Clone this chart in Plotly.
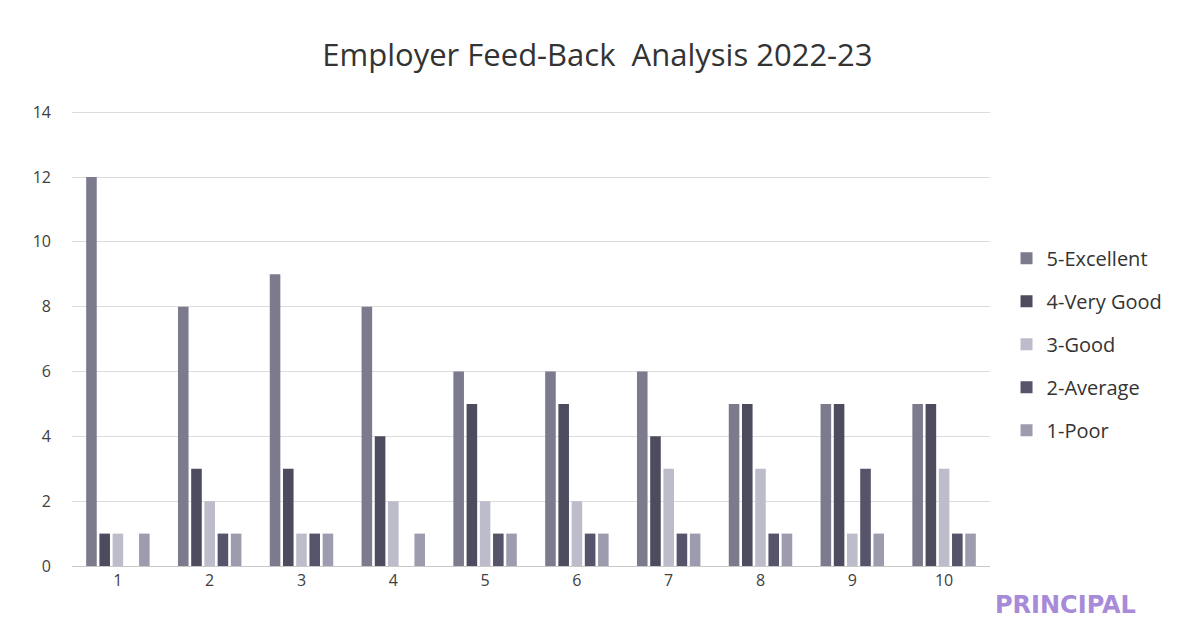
import plotly.graph_objects as go

categories = ["1", "2", "3", "4", "5", "6", "7", "8", "9", "10"]
series_names = ["5-Excellent", "4-Very Good", "3-Good", "2-Average", "1-Poor"]
excellent = [12, 8, 9, 8, 6, 6, 6, 5, 5, 5]
very_good = [1, 3, 3, 4, 5, 5, 4, 5, 5, 5]
good = [1, 2, 1, 2, 2, 2, 3, 3, 1, 3]
average = [0, 1, 1, 0, 1, 1, 1, 1, 3, 1]
poor = [1, 1, 1, 1, 1, 1, 1, 1, 1, 1]
y_ticks = [0, 2, 4, 6, 8, 10, 12, 14]

values = [excellent, very_good, good, average, poor]
colors = ["#7c7b8d", "#4d4c5e", "#bdbccb", "#55546a", "#9d9cae"]

fig = go.Figure()
for name, vals, col in zip(series_names, values, colors):
    fig.add_trace(go.Bar(x=categories, y=vals, name=name, marker_color=col,
                         marker_line_width=0, legendgroup=name))

fig.update_layout(
    width=1186, height=622,
    paper_bgcolor="white", plot_bgcolor="white",
    margin=dict(l=64, r=204, t=101, b=64),
    barmode="group", bargap=0.28, bargroupgap=0.2,
    font=dict(family="Open Sans, sans-serif", color="#404040"),
    title=dict(text="Employer Feed-Back  Analysis 2022-23", x=0.497, xanchor="center",
               y=0.924, yanchor="middle", font=dict(size=31, color="#333333")),
    legend=dict(x=1.018, xanchor="left", y=0.485, yanchor="middle",
                font=dict(size=20, color="#333333"), tracegroupgap=14,
                itemwidth=30, bgcolor="rgba(0,0,0,0)"),
    showlegend=True,
)
fig.update_xaxes(type="category", showgrid=False, showline=True, linecolor="#c8c8c8",
                 linewidth=1, tickfont=dict(size=16, color="#404040"), ticks="")
fig.update_yaxes(range=[0, 14.1], tickvals=y_ticks, showgrid=True, gridcolor="#dcdcdc",
                 zeroline=False, showline=False, tickfont=dict(size=16, color="#404040"),
                 ticklabelstandoff=20)
fig.add_annotation(text="<b>PRINCIPAL</b>", xref="paper", yref="paper",
                   x=1.082, y=-0.085, xanchor="center", yanchor="middle", showarrow=False,
                   font=dict(size=24, color="#a78ad8", family="DejaVu Sans, sans-serif"))

fig.write_html("out.html")
